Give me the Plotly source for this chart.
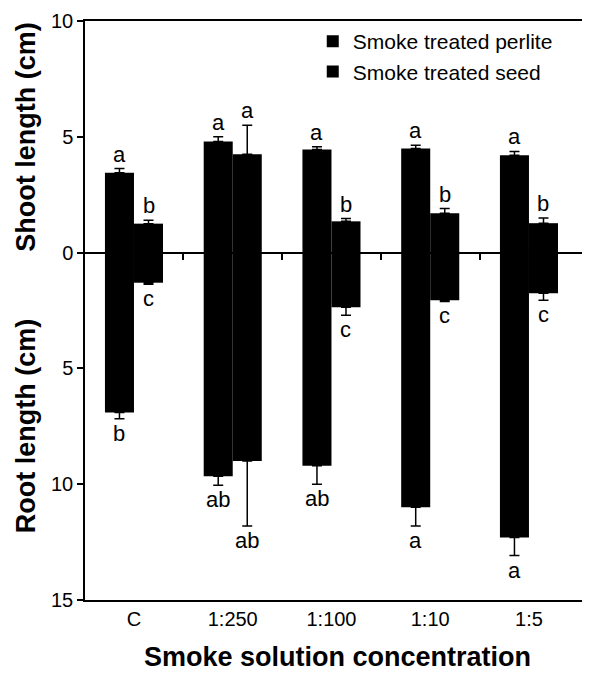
import plotly.graph_objects as go

categories = ["C", "1:250", "1:100", "1:10", "1:5"]

perlite_shoot = [3.45, 4.8, 4.45, 4.5, 4.2]
perlite_shoot_err = [0.18, 0.2, 0.12, 0.13, 0.17]
seed_shoot = [1.25, 4.25, 1.35, 1.7, 1.27]
seed_shoot_err = [0.15, 1.25, 0.12, 0.2, 0.22]

perlite_root = [6.9, 9.66, 9.2, 11.0, 12.3]
perlite_root_err = [0.27, 0.38, 0.8, 0.8, 0.78]
seed_root = [1.3, 9.0, 2.36, 2.06, 1.76]
seed_root_err = [0.07, 2.8, 0.35, 0.05, 0.3]

perlite_shoot_letters = ["a", "a", "a", "a", "a"]
seed_shoot_letters = ["b", "a", "b", "b", "b"]
perlite_root_letters = ["b", "ab", "ab", "a", "a"]
seed_root_letters = ["c", "ab", "c", "c", "c"]

y_ticks = [-15, -10, -5, 0, 5, 10]
y_tick_text = ["15", "10", "5", "0", "5", "10"]

FONT = "Liberation Sans, Arial, Helvetica, sans-serif"
BW = 0.294
x = list(range(len(categories)))
mids = [i + 0.5 for i in range(len(categories) - 1)]

fig = go.Figure()

def add_bar(name, vals, errs, offset, shoot, showlegend):
    y = vals if shoot else [-v for v in vals]
    zeros = [0] * len(errs)
    fig.add_trace(go.Bar(
        x=x, y=y, name=name, width=BW, offset=offset,
        marker=dict(color="black", line=dict(width=0)),
        legendgroup=name, showlegend=showlegend,
        error_y=dict(type="data", symmetric=False,
                     array=errs if shoot else zeros,
                     arrayminus=zeros if shoot else errs,
                     color="black", thickness=1.5, width=5),
    ))

add_bar("Smoke treated perlite", perlite_shoot, perlite_shoot_err, -BW, True, True)
add_bar("Smoke treated seed", seed_shoot, seed_shoot_err, 0, True, True)
add_bar("Smoke treated perlite", perlite_root, perlite_root_err, -BW, False, False)
add_bar("Smoke treated seed", seed_root, seed_root_err, 0, False, False)

annotations = []
def add_letters(vals, errs, letters, offset, shoot):
    for i, (v, e, t) in enumerate(zip(vals, errs, letters)):
        annotations.append(dict(
            x=i + offset + BW / 2,
            y=(v + e) if shoot else -(v + e),
            xref="x", yref="y", text=t, showarrow=False,
            yanchor="bottom" if shoot else "top",
            font=dict(family=FONT, size=22, color="black"),
        ))

add_letters(perlite_shoot, perlite_shoot_err, perlite_shoot_letters, -BW, True)
add_letters(seed_shoot, seed_shoot_err, seed_shoot_letters, 0, True)
add_letters(perlite_root, perlite_root_err, perlite_root_letters, -BW, False)
add_letters(seed_root, seed_root_err, seed_root_letters, 0, False)

annotations.append(dict(text="<b>Shoot length (cm)</b>", xref="paper", yref="paper",
                        x=-0.117, y=0.80, textangle=-90, showarrow=False,
                        xanchor="center", yanchor="middle",
                        font=dict(family=FONT, size=27, color="black")))
annotations.append(dict(text="<b>Root length (cm)</b>", xref="paper", yref="paper",
                        x=-0.117, y=0.30, textangle=-90, showarrow=False,
                        xanchor="center", yanchor="middle",
                        font=dict(family=FONT, size=27, color="black")))

xr = [-0.496, 4.618]

fig.update_layout(
    width=582, height=669,
    margin=dict(l=77, r=0, t=13, b=77),
    paper_bgcolor="white", plot_bgcolor="white",
    barmode="overlay",
    font=dict(family=FONT, color="black"),
    annotations=annotations,
    xaxis=dict(range=xr, tickvals=x, ticktext=categories, showline=True,
               mirror=True, linecolor="black", linewidth=1.5, ticks="",
               showgrid=False, zeroline=False, automargin=False,
               tickfont=dict(family=FONT, size=20, color="black"),
               title=dict(text="<b>Smoke solution concentration</b>",
                          font=dict(family=FONT, size=27, color="black"),
                          standoff=18)),
    xaxis2=dict(range=xr, overlaying="x", anchor="free", position=0.6,
                side="bottom", tickvals=mids, ticks="outside", ticklen=6,
                tickwidth=1.5, tickcolor="black", showticklabels=False,
                showline=False, showgrid=False, zeroline=False, automargin=False),
    yaxis=dict(range=[-15, 10], tickvals=y_ticks, ticktext=y_tick_text,
               showline=True, linecolor="black", linewidth=1.5,
               ticks="outside", ticklen=6, tickwidth=1.5, tickcolor="black",
               showgrid=False, zeroline=True, zerolinecolor="black",
               zerolinewidth=2, automargin=False, ticklabeloverflow="allow",
               tickfont=dict(family=FONT, size=20, color="black")),
    legend=dict(x=0.451, y=1.0, xanchor="left", yanchor="top",
                bgcolor="rgba(0,0,0,0)", itemwidth=30, tracegroupgap=0,
                font=dict(family=FONT, size=21, color="black")),
)

# invisible trace to activate xaxis2 (minor ticks on zero line)
fig.add_trace(go.Scatter(x=mids, y=[0] * len(mids), xaxis="x2", mode="markers",
                         marker=dict(size=1, color="rgba(0,0,0,0)"),
                         showlegend=False, hoverinfo="skip"))

fig.write_html("out.html")
